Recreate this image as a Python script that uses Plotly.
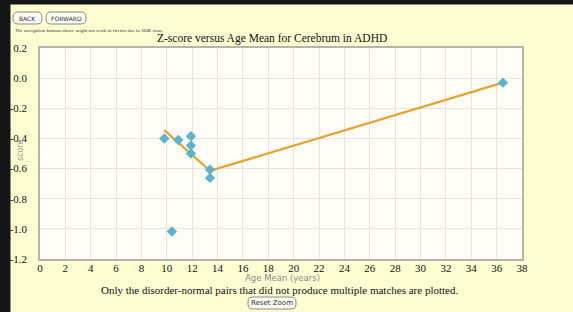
import plotly.graph_objects as go

# ---- data ----
age_mean = [9.8, 10.9, 11.9, 11.9, 11.9, 13.4, 13.4, 10.4, 36.5]
z_score = [-0.40, -0.41, -0.385, -0.447, -0.50, -0.607, -0.662, -1.018, -0.03]
trend_x = [9.8, 13.4, 36.5]
trend_y = [-0.345, -0.615, -0.03]
x_ticks = list(range(0, 39, 2))
y_ticks = [0.2, 0.0, -0.2, -0.4, -0.6, -0.8, -1.0, -1.2]
y_tick_text = ["0.2", "0.0", "-0.2", "-0.4", "-0.6", "-0.8", "-1.0", "-1.2"]

W, H = 573, 312
L, R, T, B = 40, 51, 48, 53
PW, PH = W - L - R, H - T - B

def px(x):
    return (x - L) / PW

def py(y):
    return (H - B - y) / PH

SERIF = "Liberation Serif, Times New Roman, serif"
SANS = "DejaVu Sans, Arial, sans-serif"

fig = go.Figure()
fig.add_trace(go.Scatter(x=trend_x, y=trend_y, mode="lines",
                         line=dict(color="#e8a232", width=2.2),
                         hoverinfo="skip", showlegend=False))
fig.add_trace(go.Scatter(x=age_mean, y=z_score, mode="markers",
                         marker=dict(symbol="diamond", size=8, color="#5ab4cc",
                                     line=dict(width=0)),
                         showlegend=False))

def rrect(x0, y0, x1, y1, r):
    path = (f"M {px(x0+r)},{py(y0)} L {px(x1-r)},{py(y0)} "
            f"Q {px(x1)},{py(y0)} {px(x1)},{py(y0+r)} "
            f"L {px(x1)},{py(y1-r)} Q {px(x1)},{py(y1)} {px(x1-r)},{py(y1)} "
            f"L {px(x0+r)},{py(y1)} Q {px(x0)},{py(y1)} {px(x0)},{py(y1-r)} "
            f"L {px(x0)},{py(y0+r)} Q {px(x0)},{py(y0)} {px(x0+r)},{py(y0)} Z")
    return dict(type="path", xref="paper", yref="paper", path=path,
                fillcolor="#fbfbf4", line=dict(color="#8a8a80", width=1),
                layer="below")

def band(x0, y0, x1, y1):
    path = (f"M {px(x0)},{py(y0)} L {px(x1)},{py(y0)} L {px(x1)},{py(y1)} "
            f"L {px(x0)},{py(y1)} Z")
    return dict(type="path", xref="paper", yref="paper", path=path,
                fillcolor="#161616", line=dict(color="#161616", width=1),
                layer="above")

shapes = [
    band(0, 0, 10, H),
    band(0, 0, W, 4),
    rrect(13, 12, 42, 24, 5),
    rrect(46, 12, 86, 24, 5),
    rrect(248, 297, 296, 309, 5),
]

def note(text, x, y, size, color, family, xanchor="center", angle=0):
    return dict(text=text, x=px(x), y=py(y), xref="paper", yref="paper",
                showarrow=False, xanchor=xanchor, yanchor="middle", textangle=angle,
                font=dict(family=family, size=size, color=color))

annotations = [
    note("Z-score versus Age Mean for Cerebrum in ADHD", 272, 39, 11.5, "#111", SERIF),
    note("score", 20, 150, 8, "#9a9a9a", SANS, angle=-90),
    note("Age Mean (years)", 282, 277.5, 8.5, "#8a8a8a", SANS),
    note("Only the disorder-normal pairs that did not produce multiple matches are plotted.",
         279, 290, 11, "#111", SERIF),
    note("BACK", 27.5, 18, 6, "#333", SANS),
    note("FORWARD", 66, 18, 6, "#333", SANS),
    note("The navigation buttons above might not work in firefox due to SDK issue.",
         13, 30.5, 5, "#333", SERIF, xanchor="left"),
    note("Reset Zoom", 272, 303, 7, "#333", SANS),
]

fig.update_layout(
    width=W, height=H,
    margin=dict(l=L, r=R, t=T, b=B, pad=0, autoexpand=False),
    paper_bgcolor="#fffed2",
    plot_bgcolor="#fffdf6",
    showlegend=False,
    shapes=shapes,
    annotations=annotations,
    xaxis=dict(range=[0, 38], tickvals=x_ticks, ticks="", showgrid=True,
               gridcolor="#e6e4dc", gridwidth=1, zeroline=False, automargin=False,
               showline=True, linecolor="#b4b4a8", linewidth=1.5, mirror=True,
               tickfont=dict(family=SERIF, size=11, color="#111"),
               ticklabelstandoff=-2),
    yaxis=dict(range=[-1.2, 0.2], tickvals=y_ticks, ticktext=y_tick_text, ticks="",
               showgrid=True, gridcolor="#e6e4dc", gridwidth=1, zeroline=False,
               automargin=False,
               showline=True, linecolor="#b4b4a8", linewidth=1.5, mirror=True,
               tickfont=dict(family=SERIF, size=11, color="#111"),
               ticklabelstandoff=9),
)

fig.write_html("out.html", config={"displayModeBar": False},
               post_script="document.body.style.margin='0';document.body.style.padding='0';")
